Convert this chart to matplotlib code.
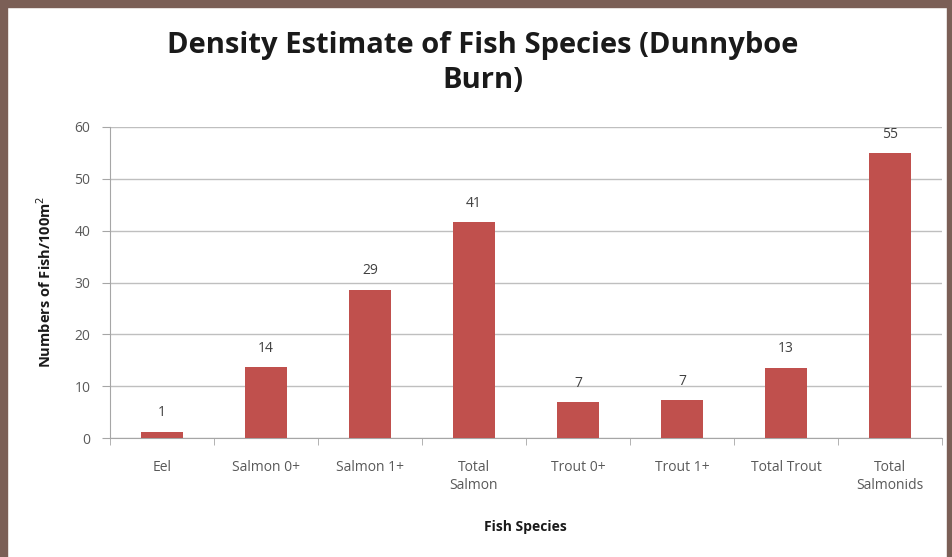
import matplotlib
matplotlib.use("Agg")
import matplotlib.pyplot as plt
from matplotlib.patches import Rectangle

categories = ["Eel", "Salmon 0+", "Salmon 1+", "Total\nSalmon", "Trout 0+",
              "Trout 1+", "Total Trout", "Total\nSalmonids"]
values = [1.2, 13.7, 28.6, 41.6, 6.9, 7.3, 13.6, 55.0]
value_labels = ["1", "14", "29", "41", "7", "7", "13", "55"]
yticks = [0, 10, 20, 30, 40, 50, 60]

plt.rcParams['font.family'] = ['Open Sans', 'DejaVu Sans']

W, H = 953, 557
fig = plt.figure(figsize=(W/100, H/100), dpi=100)
fig.patch.set_facecolor("white")

# brown frame
brown = "#7b5f56"
fig.patches.append(Rectangle((0, 1 - 7/H), 1, 7/H, transform=fig.transFigure, color=brown, zorder=0))
fig.patches.append(Rectangle((0, 0), 7/W, 1, transform=fig.transFigure, color=brown, zorder=0))
fig.patches.append(Rectangle((1 - 6/W, 0), 6/W, 1, transform=fig.transFigure, color=brown, zorder=0))

left, right = 110/W, 942/W
bottom, top = 1 - 438/H, 1 - 127/H
ax = fig.add_axes([left, bottom, right - left, top - bottom])

x = list(range(len(categories)))
bars = ax.bar(x, values, width=0.4, color="#c0504d", zorder=3)
for xi, v, lab in zip(x, values, value_labels):
    ax.text(xi, v + 2.2, lab, ha="center", va="bottom", fontsize=10, color="#404040")

ax.set_xlim(-0.5, len(categories) - 0.5)
ax.set_ylim(0, 60)
ax.set_yticks(yticks)
ax.set_yticklabels([str(t) for t in yticks], fontsize=10, color="#595959")
ax.set_xticks(x)
ax.set_xticklabels(categories, fontsize=10, color="#595959", linespacing=1.25)
ax.tick_params(axis="x", length=0, pad=16)
ax.tick_params(axis="y", length=6, color="#a6a6a6", pad=8)
# category boundary ticks
ax.set_xticks([i - 0.5 for i in range(len(categories) + 1)], minor=True)
ax.tick_params(axis="x", which="minor", length=5, color="#a6a6a6")

ax.grid(axis="y", color="#bfbfbf", linewidth=1, zorder=0)
for s in ["top", "right"]:
    ax.spines[s].set_visible(False)
ax.spines["left"].set_color("#a6a6a6")
ax.spines["bottom"].set_color("#a6a6a6")

fig.text(483/W, 1 - 63/H, "Density Estimate of Fish Species (Dunnyboe\nBurn)",
         ha="center", va="center", fontsize=21, fontweight="bold", color="#1a1a1a",
         linespacing=1.25)
fig.text(525/W, 1 - 527/H, "Fish Species", ha="center", va="center",
         fontsize=10, fontweight="bold", color="#1a1a1a")
fig.text(45/W, 1 - 282/H, "Numbers of Fish/100m$^2$", ha="center", va="center",
         rotation=90, fontsize=10.5, fontweight="bold", color="#1a1a1a")

fig.savefig("out.png", dpi=100, facecolor="white")
